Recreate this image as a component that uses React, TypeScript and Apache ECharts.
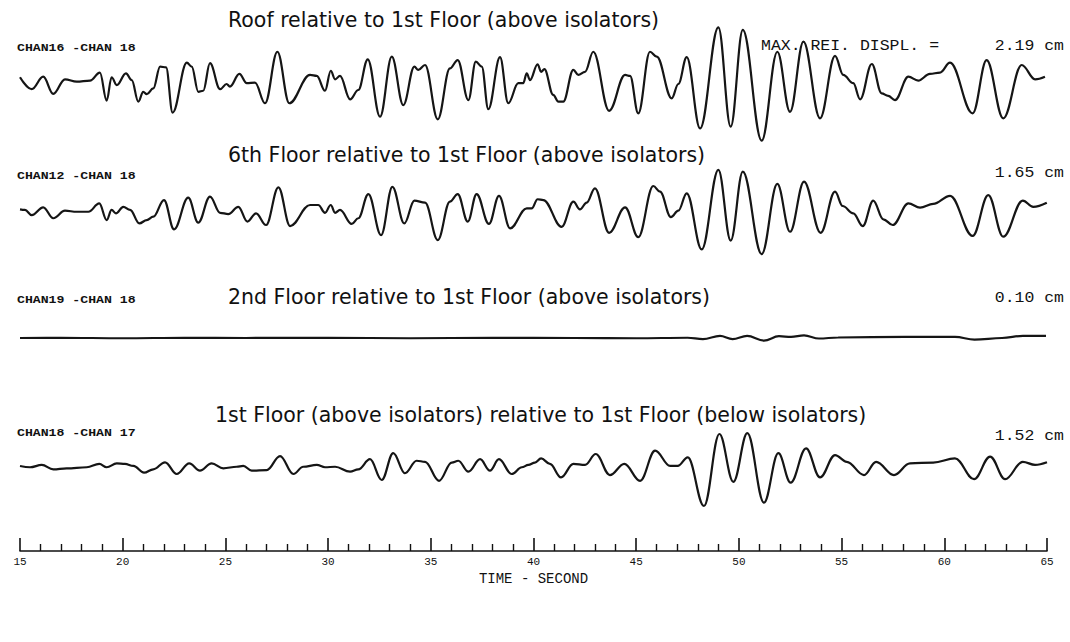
import React, { useEffect, useRef } from "react";
import * as echarts from "echarts";

// Relative displacement traces, [time (s), displacement (cm)], read at peaks / troughs / shoulders
const ROOF: number[][] = [
  [15.00,0.26],[15.57,-0.20],[16.13,0.28],[16.62,-0.38],[17.19,0.18],[17.76,0.09],[18.41,0.13],[18.89,0.44],[19.22,-0.64],[19.46,0.26],[19.71,-0.04],[20.16,0.41],[20.44,0.15],[20.76,-0.68],[21.00,-0.30],[21.17,-0.39],[21.49,-0.17],[21.82,0.67],[22.11,0.64],[22.43,-1.10],[23.12,0.82],[23.36,0.67],[23.68,-0.30],[23.92,-0.26],[24.25,0.80],[24.74,-0.20],[25.06,0.00],[25.22,-0.10],[25.68,0.39],[26.04,0.03],[26.44,0.05],[26.93,-0.74],[27.53,1.24],[28.11,-0.74],[29.12,0.35],[29.45,0.31],[29.85,-0.26],[30.13,0.51],[30.34,0.18],[30.58,0.31],[31.07,-0.59],[31.47,-0.23],[31.93,0.95],[32.53,-1.26],[33.10,1.05],[33.66,-0.81],[34.20,0.67],[34.39,0.54],[34.72,0.73],[35.34,-1.36],[35.93,0.60],[36.31,0.92],[36.83,-0.62],[37.19,0.86],[37.48,0.67],[37.80,-0.97],[38.37,1.03],[38.77,-0.74],[39.26,0.03],[39.50,0.03],[39.67,0.41],[39.83,0.15],[40.20,0.76],[40.37,0.47],[40.53,0.57],[40.96,-0.42],[41.21,-0.68],[41.45,-0.68],[41.94,0.54],[42.18,0.35],[42.51,0.47],[42.91,1.24],[43.68,-1.03],[44.46,0.35],[44.70,0.31],[45.10,-1.13],[45.67,1.24],[46.00,1.05],[46.73,-0.55],[47.05,0.00],[47.46,1.03],[48.11,-1.71],[49.00,2.18],[49.60,-1.64],[50.19,2.08],[51.11,-2.18],[51.87,1.24],[52.49,-1.07],[53.14,1.63],[53.95,-1.32],[54.68,1.08],[55.08,0.35],[55.57,0.03],[55.90,-0.59],[56.47,0.77],[56.95,-0.36],[57.27,-0.46],[57.60,-0.62],[58.25,0.28],[58.73,0.13],[59.30,0.39],[59.79,0.44],[60.28,0.82],[61.38,-1.13],[62.06,0.92],[62.87,-1.32],[63.77,0.73],[64.42,0.18],[64.90,0.28]
];

const SIXTH: number[][] = [
  [15.00,0.10],[15.24,0.08],[15.57,-0.12],[16.13,0.18],[16.62,-0.24],[17.19,0.05],[17.76,0.01],[18.33,0.01],[18.86,0.33],[19.22,-0.31],[19.46,0.08],[19.67,-0.05],[20.03,0.20],[20.36,0.08],[20.81,-0.44],[21.17,-0.31],[21.49,-0.18],[22.01,0.46],[22.50,-0.67],[23.19,0.55],[23.68,-0.41],[24.25,0.59],[24.74,-0.03],[25.14,-0.08],[25.63,0.20],[26.07,-0.37],[26.49,-0.05],[26.98,-0.50],[27.58,0.95],[28.15,-0.54],[29.12,0.27],[29.52,0.27],[29.85,-0.03],[30.13,0.27],[30.34,-0.03],[30.58,0.08],[31.15,-0.46],[31.47,-0.24],[31.96,0.69],[32.58,-0.89],[33.13,0.97],[33.71,-0.44],[34.20,0.44],[34.72,0.36],[35.34,-1.08],[35.93,0.40],[36.31,0.69],[36.80,-0.37],[37.23,0.69],[37.83,-0.46],[38.32,0.62],[38.86,-0.63],[39.67,0.14],[39.91,0.14],[40.20,0.49],[40.48,0.46],[41.37,-0.57],[41.94,0.40],[42.26,0.10],[42.59,0.36],[42.99,0.91],[43.68,-0.80],[44.46,0.18],[45.10,-0.97],[45.83,1.00],[46.16,0.78],[46.69,-0.20],[47.05,0.05],[47.46,0.72],[48.19,-1.44],[49.00,1.62],[49.60,-1.10],[50.19,1.55],[51.11,-1.62],[51.87,1.08],[52.49,-0.76],[53.17,1.17],[53.98,-0.80],[54.68,0.78],[55.05,0.23],[55.57,-0.05],[56.03,-0.54],[56.54,0.44],[57.03,-0.28],[57.49,-0.50],[58.25,0.33],[58.82,0.17],[59.46,0.31],[60.28,0.62],[61.38,-0.92],[62.14,0.65],[62.87,-0.95],[63.82,0.44],[64.33,0.20],[64.99,0.36]
];

const SECOND: number[][] = [
  [15.00,0.00],[17.00,0.01],[20.00,-0.01],[23.00,0.01],[26.00,0.00],[30.00,0.01],[34.00,-0.01],[38.00,0.01],[42.00,0.00],[45.00,-0.01],[47.50,0.01],[48.25,-0.04],[49.08,0.08],[49.69,-0.04],[50.40,0.08],[51.22,-0.10],[51.95,0.07],[52.54,0.04],[53.17,0.10],[53.90,-0.02],[54.83,0.02],[58.09,0.04],[60.52,0.04],[61.47,-0.06],[62.81,0.00],[63.83,0.08],[64.95,0.08]
];

const FIRST: number[][] = [
  [15.00,0.04],[15.49,-0.01],[16.06,0.08],[16.62,-0.09],[17.27,-0.05],[18.25,-0.01],[18.86,0.12],[19.22,-0.01],[19.71,0.14],[20.11,0.12],[20.52,0.04],[21.04,-0.22],[21.49,-0.09],[22.06,0.18],[22.63,-0.27],[23.24,0.14],[23.76,-0.14],[24.33,0.14],[24.90,-0.05],[25.55,0.01],[25.87,0.04],[26.28,-0.14],[27.01,-0.12],[27.66,0.42],[28.31,-0.27],[28.79,0.01],[29.45,0.08],[29.85,-0.01],[30.34,0.01],[31.07,-0.18],[31.47,-0.09],[32.04,0.30],[32.61,-0.50],[33.17,0.53],[33.74,-0.24],[34.31,0.24],[34.72,0.20],[35.40,-0.53],[36.02,0.17],[36.34,0.24],[36.83,-0.18],[37.40,0.30],[37.88,-0.14],[38.32,0.30],[38.94,-0.27],[39.43,-0.01],[39.75,0.08],[40.07,0.17],[40.37,0.33],[40.80,0.12],[41.34,-0.40],[41.94,0.12],[42.51,0.08],[43.03,0.50],[43.72,-0.31],[44.42,0.12],[45.19,-0.53],[45.92,0.63],[46.65,0.04],[47.02,0.04],[47.51,0.37],[48.30,-1.50],[49.05,1.27],[49.73,-0.57],[50.41,1.30],[51.22,-1.37],[51.92,0.53],[52.52,-0.60],[53.27,0.72],[53.95,-0.40],[54.68,0.46],[55.25,0.20],[56.09,-0.31],[56.68,0.20],[57.55,-0.31],[58.33,0.14],[59.46,0.17],[60.52,0.33],[61.45,-0.47],[62.23,0.40],[62.96,-0.47],[63.82,0.20],[64.42,0.08],[65.00,0.18]
];

const TITLES = [
  "Roof relative to 1st Floor (above isolators)",
  "6th Floor relative to 1st Floor (above isolators)",
  "2nd Floor relative to 1st Floor (above isolators)",
  "1st Floor (above isolators) relative to 1st Floor (below isolators)",
];
const CHANNELS = ["CHAN16 -CHAN 18", "CHAN12 -CHAN 18", "CHAN19 -CHAN 18", "CHAN18 -CHAN 17"];
const MAX_LABELS = ["2.19 cm", "1.65 cm", "0.10 cm", "1.52 cm"];
const MAX_PREFIX = "MAX. REI. DISPL. =";
const TIME_MIN = 15;
const TIME_MAX = 65;
const TIME_STEP = 5;
const AXIS_NAME = "TIME - SECOND";

export default function App() {
  const ref = useRef<HTMLDivElement>(null);
  useEffect(() => {
    if (!ref.current) return;
    const chart = echarts.init(ref.current, null, { renderer: "svg" });
    const traces = [ROOF, SIXTH, SECOND, FIRST];
    const baselines = [84, 212, 338, 467];
    const H = 130;
    const R = 2.5;
    const L = 20, RIGHT = 23;
    const grids: any[] = baselines.map((b) => ({ left: L, right: RIGHT, top: b - H / 2, height: H }));
    grids.push({ left: L, right: RIGHT, top: 530, height: 21 });
    const xAxes: any[] = baselines.map((_, i) => ({
      type: "value", gridIndex: i, min: TIME_MIN, max: TIME_MAX, show: false,
    }));
    xAxes.push({
      type: "value", gridIndex: 4, min: TIME_MIN, max: TIME_MAX, interval: TIME_STEP, position: "bottom",
      axisLine: { show: true, lineStyle: { color: "#111", width: 1.6 } },
      axisTick: { show: true, inside: true, length: 13, lineStyle: { color: "#111", width: 1.6 } },
      minorTick: { show: true, splitNumber: 5, length: 7, lineStyle: { color: "#111", width: 1.4 } },
      splitLine: { show: false }, minorSplitLine: { show: false },
      axisLabel: { color: "#111", fontFamily: "Liberation Mono", fontSize: 11, margin: 5 },
      name: AXIS_NAME, nameLocation: "middle", nameGap: 21,
      nameTextStyle: { color: "#111", fontFamily: "Liberation Mono", fontSize: 14 },
    });
    const yAxes: any[] = baselines.map((_, i) => ({ type: "value", gridIndex: i, min: -R, max: R, show: false }));
    yAxes.push({ type: "value", gridIndex: 4, min: 0, max: 1, show: false });

    const series = traces.map((d, i) => ({
      type: "line", xAxisIndex: i, yAxisIndex: i, data: d, showSymbol: false,
      smooth: 0.38, smoothMonotone: "x",
      lineStyle: { color: "#151515", width: 2.2 }, silent: true,
    }));

    const titleX = [228, 228, 228, 215];
    const titleY = [20, 155, 297, 415];
    const chanY = [48, 176, 300, 433];
    const maxY = [46, 173, 298, 436];
    const graphics: any[] = [];
    TITLES.forEach((t, i) => graphics.push({
      type: "text", x: titleX[i], y: titleY[i],
      style: { text: t, fontFamily: "DejaVu Sans", fontSize: 20.5, fill: "#111", align: "left", verticalAlign: "middle" },
    }));
    CHANNELS.forEach((t, i) => graphics.push({
      type: "text", x: 17, y: chanY[i], scaleX: 1.2,
      style: { text: t, fontFamily: "Liberation Mono", fontWeight: "bold", fontSize: 11, fill: "#111", align: "left", verticalAlign: "middle" },
    }));
    MAX_LABELS.forEach((t, i) => graphics.push({
      type: "text", x: 1064, y: maxY[i], scaleX: 1.1,
      style: { text: t, fontFamily: "Liberation Mono", fontSize: 15, fill: "#111", align: "right", verticalAlign: "middle" },
    }));
    graphics.push({
      type: "text", x: 761, y: maxY[0], scaleX: 1.1,
      style: { text: MAX_PREFIX, fontFamily: "Liberation Mono", fontSize: 15, fill: "#111", align: "left", verticalAlign: "middle" },
    });

    chart.setOption({
      animation: false,
      backgroundColor: "#fff",
      grid: grids, xAxis: xAxes, yAxis: yAxes, series, graphic: graphics,
    });
    return () => chart.dispose();
  }, []);
  return <div ref={ref} style={{ position: "fixed", left: 0, top: 0, width: 1070, height: 642, background: "#fff" }} />;
}
